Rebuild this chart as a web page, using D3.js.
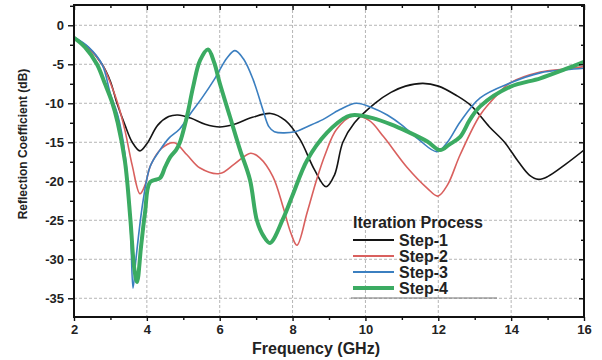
<!DOCTYPE html>
<html><head><meta charset="utf-8">
<script src="https://cdn.jsdelivr.net/npm/d3@7"></script>
<style>
html,body{margin:0;padding:0;background:#fff;}
svg{display:block;font-family:Arial,"Liberation Sans",sans-serif;}
</style></head>
<body>
<svg id="chart" width="602" height="360"></svg>
<script>
// ---- data ----
const xTicks = [2, 4, 6, 8, 10, 12, 14, 16];
const yTicks = [0, -5, -10, -15, -20, -25, -30, -35];
const seriesNames = ["Step-1", "Step-2", "Step-3", "Step-4"];
const legendTitle = "Iteration Process";

const step1Freq = [2,2.4,2.77,3.0,3.18,3.4,3.6,3.81,4.0,4.3,4.6,4.85,5.2,5.6,6.0,6.4,6.9,7.4,7.8,8.2,8.6,8.92,9.15,9.38,9.7,10.26,10.7,11.1,11.58,12.0,12.5,12.9,13.4,13.82,14.2,14.5,14.75,15.0,15.5,16];
const step1Vals = [-1.6,-2.9,-5,-7.2,-10,-12.8,-15,-16.1,-15.2,-12.8,-11.7,-11.5,-11.9,-12.7,-13.05,-12.7,-11.8,-11.3,-12.2,-14.6,-18.5,-20.7,-19.2,-15,-12.5,-10,-8.6,-7.8,-7.45,-7.8,-9,-10.3,-13,-15,-17.5,-19.2,-19.75,-19.4,-17.8,-16];

const step2Freq = [2,2.4,2.77,3.0,3.2,3.4,3.6,3.81,3.95,4.1,4.4,4.75,5.1,5.46,6.0,6.4,6.85,7.1,7.46,7.74,7.95,8.12,8.4,8.66,8.9,9.2,9.66,10.1,10.5,11.14,11.7,11.99,12.25,12.6,13.15,13.6,13.97,14.8,15.5,16];
const step2Vals = [-1.6,-2.9,-5,-7.4,-10,-13.5,-18,-21.6,-20.5,-18,-15.8,-15.05,-16.6,-18.3,-19.0,-17.8,-16.4,-17.0,-19.4,-23.3,-26.6,-28.2,-24,-19.8,-16.5,-13.4,-11.6,-12.2,-14.3,-18.2,-20.9,-21.9,-20.5,-16.6,-11.5,-9,-7.4,-6.0,-5.6,-5.3];

const step3Freq = [2,2.4,2.77,3.0,3.2,3.4,3.55,3.62,3.7,3.9,4.09,4.36,4.6,4.9,5.2,5.5,5.87,6.2,6.42,6.65,6.92,7.19,7.35,7.5,8.07,8.4,8.83,9.3,9.75,10.2,10.6,11.0,11.5,11.96,12.25,12.6,13.15,13.97,14.8,15.5,16];
const step3Vals = [-1.5,-2.8,-5,-8.8,-11.5,-16.5,-26,-33.7,-30,-22.4,-18.1,-16,-14.5,-13.3,-11.3,-9.4,-6.8,-4.2,-3.25,-4.3,-7,-10.9,-13,-13.65,-13.65,-13,-12.1,-10.8,-10,-10.6,-11.5,-12.8,-14.8,-16.2,-15,-12.4,-9.3,-7.4,-6.1,-5.7,-5.5];

const step4Freq = [2,2.3,2.63,2.85,3.04,3.2,3.4,3.55,3.65,3.73,3.84,3.95,4.09,4.36,4.5,4.64,4.8,4.9,5.1,5.27,5.46,5.68,5.85,6.0,6.28,6.56,6.83,7.02,7.2,7.38,7.74,8.0,8.4,8.94,9.5,9.7,10.2,10.7,11.14,11.7,12.05,12.3,12.6,12.87,13.15,13.97,14.8,15.5,16];
const step4Vals = [-1.6,-2.8,-5,-7.5,-9.8,-12.5,-17.5,-25,-31,-32.9,-28.4,-24,-20.1,-19.6,-18.2,-16.9,-16,-15.1,-11.7,-7.9,-4.5,-3.1,-4.8,-7.4,-11.7,-16,-19.8,-25,-27,-27.9,-24.8,-21.8,-17.3,-13.8,-11.7,-11.5,-11.9,-12.7,-13.6,-14.9,-16.0,-15.3,-14.3,-12.1,-10.4,-7.9,-6.8,-5.6,-4.7];

const colors = ["#141414", "#d9605e", "#3b7fc0", "#3bab62"];
const widths = [1.6, 1.6, 1.6, 4];

// ---- layout ----
const W = 602, H = 360;
const m = {left: 74, right: 18, top: 5, bottom: 43};
const iw = W - m.left - m.right, ih = H - m.top - m.bottom;
const svg = d3.select("#chart");
const g = svg.append("g").attr("transform", `translate(${m.left},${m.top})`);

const x = d3.scaleLinear().domain([2, 16]).range([0, iw]);
const y = d3.scaleLinear().domain([-37.4, 2.6]).range([ih, 0]);

// grid
g.append("g").selectAll("line").data(xTicks.filter(t => t > 2 && t < 16)).join("line")
  .attr("x1", d => x(d)).attr("x2", d => x(d)).attr("y1", 0).attr("y2", ih)
  .attr("stroke", "#b5b5b5").attr("stroke-width", 1).attr("stroke-dasharray", "3,2");
g.append("g").selectAll("line").data(yTicks).join("line")
  .attr("y1", d => y(d)).attr("y2", d => y(d)).attr("x1", 0).attr("x2", iw)
  .attr("stroke", "#b5b5b5").attr("stroke-width", 1).attr("stroke-dasharray", "3,2");

// series
const seriesData = [
  d3.zip(step1Freq, step1Vals),
  d3.zip(step2Freq, step2Vals),
  d3.zip(step3Freq, step3Vals),
  d3.zip(step4Freq, step4Vals)
];
const line = d3.line().x(d => x(d[0])).y(d => y(d[1])).curve(d3.curveCatmullRom.alpha(0.5));
svg.append("defs").append("clipPath").attr("id", "clip").append("rect")
  .attr("width", iw).attr("height", ih);
const lines = g.append("g").attr("clip-path", "url(#clip)");
seriesData.forEach((s, i) => {
  lines.append("path").datum(s).attr("d", line).attr("fill", "none")
    .attr("stroke", colors[i]).attr("stroke-width", widths[i])
    .attr("stroke-linejoin", "round").attr("stroke-linecap", "round");
});

// axes
const xMinor = d3.range(3, 16, 2);
const yMinor = d3.range(2.5, -37.5, -5);
const fmt = d => d;

g.append("g").attr("transform", `translate(0,${ih})`)
  .call(d3.axisBottom(x).tickValues(xTicks).tickSize(4).tickPadding(4).tickFormat(fmt));
g.append("g").attr("transform", `translate(0,${ih})`)
  .call(d3.axisBottom(x).tickValues(xMinor).tickSize(3).tickFormat(""));
g.append("g")
  .call(d3.axisLeft(y).tickValues(yTicks).tickSize(6).tickPadding(4).tickFormat(fmt));
g.append("g").call(d3.axisLeft(y).tickValues(yMinor).tickSize(4).tickFormat(""));
g.append("g").call(d3.axisTop(x).tickValues(xTicks).tickSize(-5).tickFormat(""));
g.append("g").call(d3.axisTop(x).tickValues(xMinor).tickSize(-3).tickFormat(""));
g.append("g").attr("transform", `translate(${iw},0)`)
  .call(d3.axisRight(y).tickValues(yTicks).tickSize(-5).tickFormat(""));
g.append("g").attr("transform", `translate(${iw},0)`)
  .call(d3.axisRight(y).tickValues(yMinor).tickSize(-3).tickFormat(""));
g.selectAll(".domain").remove();
g.selectAll(".tick line").attr("stroke", "#111").attr("stroke-width", 1.4);
g.selectAll(".tick text").attr("font-size", 13).attr("font-weight", "bold")
  .attr("fill", "#222").attr("font-family", "Arial, 'Liberation Sans', sans-serif");

// frame
g.append("rect").attr("width", iw).attr("height", ih).attr("fill", "none")
  .attr("stroke", "#111").attr("stroke-width", 2);

// axis titles
svg.append("text").attr("x", 316).attr("y", 354).attr("text-anchor", "middle")
  .attr("font-size", 16).attr("font-weight", "bold").attr("fill", "#222")
  .text("Frequency (GHz)");
svg.append("text").attr("transform", "translate(27,144) rotate(-90)").attr("text-anchor", "middle")
  .attr("font-size", 12).attr("font-weight", "bold").attr("fill", "#222")
  .text("Reflection Coefficient (dB)");

// legend
const lg = svg.append("g");
lg.append("text").attr("x", 353).attr("y", 228).attr("font-size", 16)
  .attr("font-weight", "bold").attr("fill", "#222").text(legendTitle);
seriesNames.forEach((n, i) => {
  const yy = 240 + i * 16;
  lg.append("line").attr("x1", 353).attr("x2", 394).attr("y1", yy).attr("y2", yy)
    .attr("stroke", colors[i]).attr("stroke-width", i === 3 ? 4 : 1.8);
  lg.append("text").attr("x", 399).attr("y", yy + 5.5).attr("font-size", 16)
    .attr("font-weight", "bold").attr("fill", "#222").text(n);
});
lg.append("line").attr("x1", 351).attr("x2", 497).attr("y1", 298).attr("y2", 298)
  .attr("stroke", "#777").attr("stroke-width", 1);
</script>
</body></html>
